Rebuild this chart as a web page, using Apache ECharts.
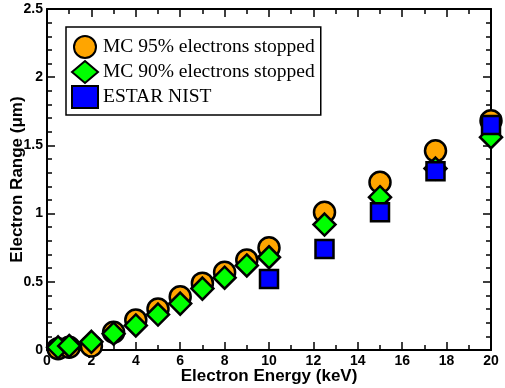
<!DOCTYPE html>
<html>
<head>
<meta charset="utf-8">
<script src="https://cdn.jsdelivr.net/npm/echarts@6/dist/echarts.min.js"></script>
<style>
  html, body { margin: 0; padding: 0; background: #fff; }
  #chart { width: 505px; height: 388px; }
</style>
</head>
<body>
<div id="chart"></div>
<script>
// data
const energyMC = [0.5, 1, 2, 3, 4, 5, 6, 7, 8, 9, 10, 12.5, 15, 17.5, 20];
const mc95 = [0.01, 0.02, 0.03, 0.13, 0.22, 0.30, 0.39, 0.49, 0.57, 0.66, 0.75, 1.01, 1.23, 1.46, 1.68];
const mc90 = [0.02, 0.03, 0.06, 0.12, 0.18, 0.26, 0.34, 0.45, 0.53, 0.62, 0.68, 0.92, 1.12, 1.33, 1.56];
const energyNist = [10, 12.5, 15, 17.5, 20];
const nist = [0.52, 0.74, 1.01, 1.31, 1.65];
const xTicks = [0, 2, 4, 6, 8, 10, 12, 14, 16, 18, 20];
const yTicks = [0, 0.5, 1, 1.5, 2, 2.5];

const pair = (xs, ys) => xs.map((x, i) => [x, ys[i]]);

const axisFont = { fontFamily: 'Liberation Sans', fontWeight: 'bold', color: '#000' };
const lineStyle = { color: '#000', width: 2 };

function makeAxis(extra) {
  return Object.assign({
    type: 'value',
    axisLine: { show: true, onZero: false, lineStyle },
    axisTick: { show: true, inside: true, length: 8, lineStyle: { color: '#000', width: 1.5 } },
    splitLine: { show: false },
    nameMoveOverlap: false,
  }, extra);
}
const minor = n => ({ show: true, splitNumber: n, length: 5, lineStyle: { color: '#000', width: 1.5 } });

const chart = echarts.init(document.getElementById('chart'));
chart.setOption({
  animation: false,
  backgroundColor: '#fff',
  grid: { left: 47, right: 14, top: 9, bottom: 38, outerBoundsMode: 'none', containLabel: false },
  legend: {
    orient: 'vertical',
    left: 66,
    top: 27,
    padding: [8, 6, 6, 5],
    itemGap: 1,
    itemWidth: 26,
    itemHeight: 22,
    borderColor: '#000',
    borderWidth: 1.5,
    backgroundColor: '#fff',
    textStyle: { fontFamily: 'Liberation Serif', fontSize: 19.5, color: '#000' },
    data: ['MC 95% electrons stopped', 'MC 90% electrons stopped', 'ESTAR NIST'],
  },
  xAxis: [
    makeAxis({
      min: 0, max: 20, interval: 2, minorTick: minor(2),
      position: 'bottom',
      name: 'Electron Energy (keV)',
      nameLocation: 'middle',
      nameGap: 18,
      nameTextStyle: Object.assign({ fontSize: 17 }, axisFont),
      axisLabel: Object.assign({ fontSize: 14, margin: 4 }, axisFont),
    }),
    makeAxis({
      min: 0, max: 20, interval: 2, minorTick: minor(2),
      position: 'top',
      axisLabel: { show: false },
    }),
  ],
  yAxis: [
    makeAxis({
      min: 0, max: 2.5, interval: 0.5, minorTick: minor(5),
      position: 'left',
      name: 'Electron Range (\u03bcm)',
      nameLocation: 'middle',
      nameGap: 21,
      nameTextStyle: Object.assign({ fontSize: 17 }, axisFont),
      axisLabel: Object.assign({ fontSize: 14, margin: 4 }, axisFont),
    }),
    makeAxis({
      min: 0, max: 2.5, interval: 0.5, minorTick: minor(5),
      position: 'right',
      axisLabel: { show: false },
    }),
  ],
  series: [
    {
      name: 'MC 95% electrons stopped',
      type: 'scatter',
      symbol: 'circle',
      symbolSize: 21,
      clip: false,
      z: 3,
      itemStyle: { color: '#ffa500', borderColor: '#000', borderWidth: 2.5, opacity: 1 },
      data: pair(energyMC, mc95),
    },
    {
      name: 'MC 90% electrons stopped',
      type: 'scatter',
      symbol: 'diamond',
      symbolSize: 22,
      clip: false,
      z: 4,
      itemStyle: { color: '#00ff00', borderColor: '#000', borderWidth: 2.5, opacity: 1 },
      data: pair(energyMC, mc90),
    },
    {
      name: 'ESTAR NIST',
      type: 'scatter',
      symbol: 'rect',
      symbolSize: 18,
      clip: false,
      z: 5,
      itemStyle: { color: '#0000ff', borderColor: '#000', borderWidth: 2.5, opacity: 1 },
      data: pair(energyNist, nist),
    },
  ],
});
</script>
</body>
</html>
